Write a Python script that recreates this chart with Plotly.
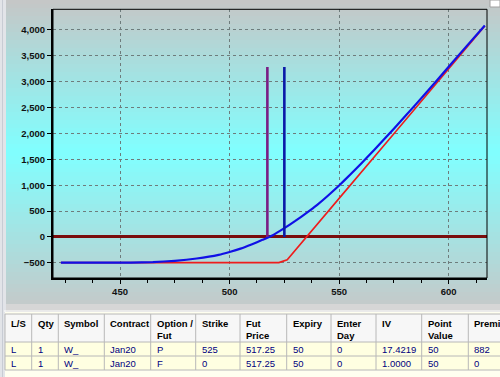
import plotly.graph_objects as go

# ---------------- data ----------------
blue_x = [423, 440, 455, 465, 475, 485, 495, 500, 505, 510, 515, 520, 525, 530,
          535, 540, 545, 550, 555, 560, 566, 575, 585, 595, 605, 616.5]
blue_y = [-495, -495, -494, -485, -460, -415, -345, -290, -225, -145, -55, 40, 170, 310,
          460, 620, 800, 995, 1200, 1415, 1680, 2090, 2560, 3040, 3530, 4085]

red_x = [423, 522.5, 526.3, 535, 550, 575, 600, 616.5]
red_y = [-495, -495, -440, 0, 745, 1995, 3245, 4075]

vline_x = [517.25, 525]
vline_top = 3280
vline_colors = ["#7a1d84", "#0a1aa8"]

y_ticks = [-500, 0, 500, 1000, 1500, 2000, 2500, 3000, 3500, 4000]
x_ticks = [450, 500, 550, 600]

headers = ["L/S", "Qty", "Symbol", "Contract", "Option /<br>Fut", "Strike",
           "Fut<br>Price", "Expiry", "Enter<br>Day", "IV", "Point<br>Value", "Premium"]
row1 = ["L", "1", "W_", "Jan20", "P", "525", "517.25", "50", "0", "17.4219", "50", "882"]
row2 = ["L", "1", "W_", "Jan20", "F", "0", "517.25", "50", "0", "1.0000", "50", "0"]
rows = [row1, row2]

# ---------------- layout helpers ----------------
W, H = 500, 377
def px(x):
    return x / W
def py(y):
    return 1 - y / H

shapes = []

# gradient background of chart panel
top_c = (198, 198, 198)
mid_c = (128, 255, 255)
bot_c = (196, 202, 202)
g_top, g_mid, g_bot = 0, 152, 304
step = 4
yy = g_top
while yy < g_bot:
    yc = yy + step / 2
    if yc <= g_mid:
        t = (yc - g_top) / (g_mid - g_top)
        c = [round(top_c[i] + (mid_c[i] - top_c[i]) * t) for i in range(3)]
    else:
        t = (yc - g_mid) / (g_bot - g_mid)
        c = [round(mid_c[i] + (bot_c[i] - mid_c[i]) * t) for i in range(3)]
    shapes.append(dict(type="rect", xref="paper", yref="paper", layer="below",
                       x0=px(6), x1=px(500), y0=py(min(yy + step + 0.5, g_bot)), y1=py(yy),
                       fillcolor="rgb(%d,%d,%d)" % tuple(c), line=dict(width=0)))
    yy += step

# left border strip
shapes.append(dict(type="rect", xref="paper", yref="paper", layer="below",
                   x0=0, x1=px(6), y0=0, y1=1, fillcolor="#e2e4e8", line=dict(width=0)))
shapes.append(dict(type="line", xref="paper", yref="paper", layer="below",
                   x0=px(2.5), x1=px(2.5), y0=0, y1=1, line=dict(color="#c8ccd4", width=1)))
# separator between chart and table
shapes.append(dict(type="rect", xref="paper", yref="paper", layer="below",
                   x0=px(6), x1=1, y0=py(312), y1=py(304), fillcolor="#d6d6d6", line=dict(width=0)))
shapes.append(dict(type="line", xref="paper", yref="paper", layer="below",
                   x0=px(4), x1=1, y0=py(311), y1=py(311), line=dict(color="#ffffff", width=1)))
# top-right small box
shapes.append(dict(type="rect", xref="paper", yref="paper", layer="above",
                   x0=px(490), x1=px(500), y0=py(7), y1=py(0), fillcolor="#ffffff",
                   line=dict(color="#a0a0a0", width=1)))

# plot frame (top/right thin lines)
xd = [53 / W, 487 / W]
yd = [py(278), py(9.3)]
shapes.append(dict(type="rect", xref="paper", yref="paper", layer="above",
                   x0=xd[0], x1=xd[1], y0=yd[0], y1=yd[1], line=dict(color="#000000", width=1)))

# ---------------- table ----------------
col_edges = [5, 31.7, 58.3, 104.3, 150.7, 195.7, 240, 286.7, 331, 376, 421.7, 468.3, 540]
hdr_top, hdr_bot = 314, 342
row_edges = [342, 356, 370]

shapes.append(dict(type="rect", xref="paper", yref="paper", layer="below",
                   x0=px(5), x1=1, y0=0, y1=py(312), fillcolor="#fffff0", line=dict(width=0)))
shapes.append(dict(type="rect", xref="paper", yref="paper", layer="below",
                   x0=px(5), x1=1, y0=py(hdr_bot), y1=py(hdr_top), fillcolor="#f7f7f7",
                   line=dict(width=0)))
shapes.append(dict(type="rect", xref="paper", yref="paper", layer="below",
                   x0=px(5), x1=1, y0=py(row_edges[-1]), y1=py(row_edges[0]), fillcolor="#ffffe1",
                   line=dict(width=0)))
grid_c = "#b8b8b8"
for xe in col_edges[:-1]:
    shapes.append(dict(type="line", xref="paper", yref="paper", layer="below",
                       x0=px(xe), x1=px(xe), y0=py(row_edges[-1]), y1=py(hdr_top),
                       line=dict(color=grid_c, width=1)))
for ye in [hdr_top, hdr_bot] + row_edges[1:]:
    shapes.append(dict(type="line", xref="paper", yref="paper", layer="below",
                       x0=px(5), x1=1, y0=py(ye), y1=py(ye), line=dict(color=grid_c, width=1)))

annotations = []
for i, h in enumerate(headers):
    annotations.append(dict(xref="paper", yref="paper", x=px(col_edges[i] + 4), y=py(hdr_top + 2),
                            xanchor="left", yanchor="top", align="left", showarrow=False,
                            text=h, font=dict(family="Liberation Sans, Arial", size=9.5,
                                              color="#000000", weight="bold")))
for r, row in enumerate(rows):
    yc = (row_edges[r] + row_edges[r + 1]) / 2
    for i, v in enumerate(row):
        annotations.append(dict(xref="paper", yref="paper", x=px(col_edges[i] + 4), y=py(yc),
                                xanchor="left", yanchor="middle", showarrow=False, text=v,
                                font=dict(family="Liberation Sans, Arial", size=9.5,
                                          color="#000080")))

# ---------------- traces ----------------
fig = go.Figure()
fig.add_trace(go.Scatter(x=red_x, y=red_y, mode="lines",
                         line=dict(color="#ee1c1c", width=1.6), hoverinfo="skip"))
fig.add_trace(go.Scatter(x=blue_x, y=blue_y, mode="lines",
                         line=dict(color="#1010e6", width=2.2, shape="spline", smoothing=0.4),
                         hoverinfo="skip"))
for vx, vc in zip(vline_x, vline_colors):
    fig.add_trace(go.Scatter(x=[vx, vx], y=[0, vline_top], mode="lines",
                             line=dict(color=vc, width=2.6), hoverinfo="skip"))

tick_font = dict(family="Liberation Sans, Arial", size=9.5, color="#111111", weight="bold")
fig.update_layout(
    width=W, height=H, margin=dict(l=0, r=0, t=0, b=0),
    paper_bgcolor="#e2e4e8", plot_bgcolor="rgba(0,0,0,0)",
    showlegend=False, shapes=shapes, annotations=annotations,
    xaxis=dict(domain=xd, range=[419.4, 617.5], tickvals=x_ticks, ticks="outside", ticklen=4,
               tickcolor="#000000", tickfont=tick_font, showline=True, linecolor="#000000",
               linewidth=2, showgrid=True, gridcolor="#6e7c7c", griddash="3px,3px", gridwidth=1,
               zeroline=False, automargin=False,
               minor=dict(dtick=12.5, tick0=450, ticks="outside", ticklen=3, tickcolor="#000000",
                          showgrid=False)),
    yaxis=dict(domain=yd, range=[-792, 4396], tickvals=y_ticks, tickformat=",", ticks="outside",
               ticklen=4, tickcolor="#000000", tickfont=tick_font, showline=True,
               linecolor="#000000", linewidth=2, showgrid=True, gridcolor="#6e7c7c",
               griddash="3px,3px", gridwidth=1, zeroline=True, zerolinecolor="#7a0c0c",
               zerolinewidth=2.5, automargin=False),
)

fig.write_html("out.html")
